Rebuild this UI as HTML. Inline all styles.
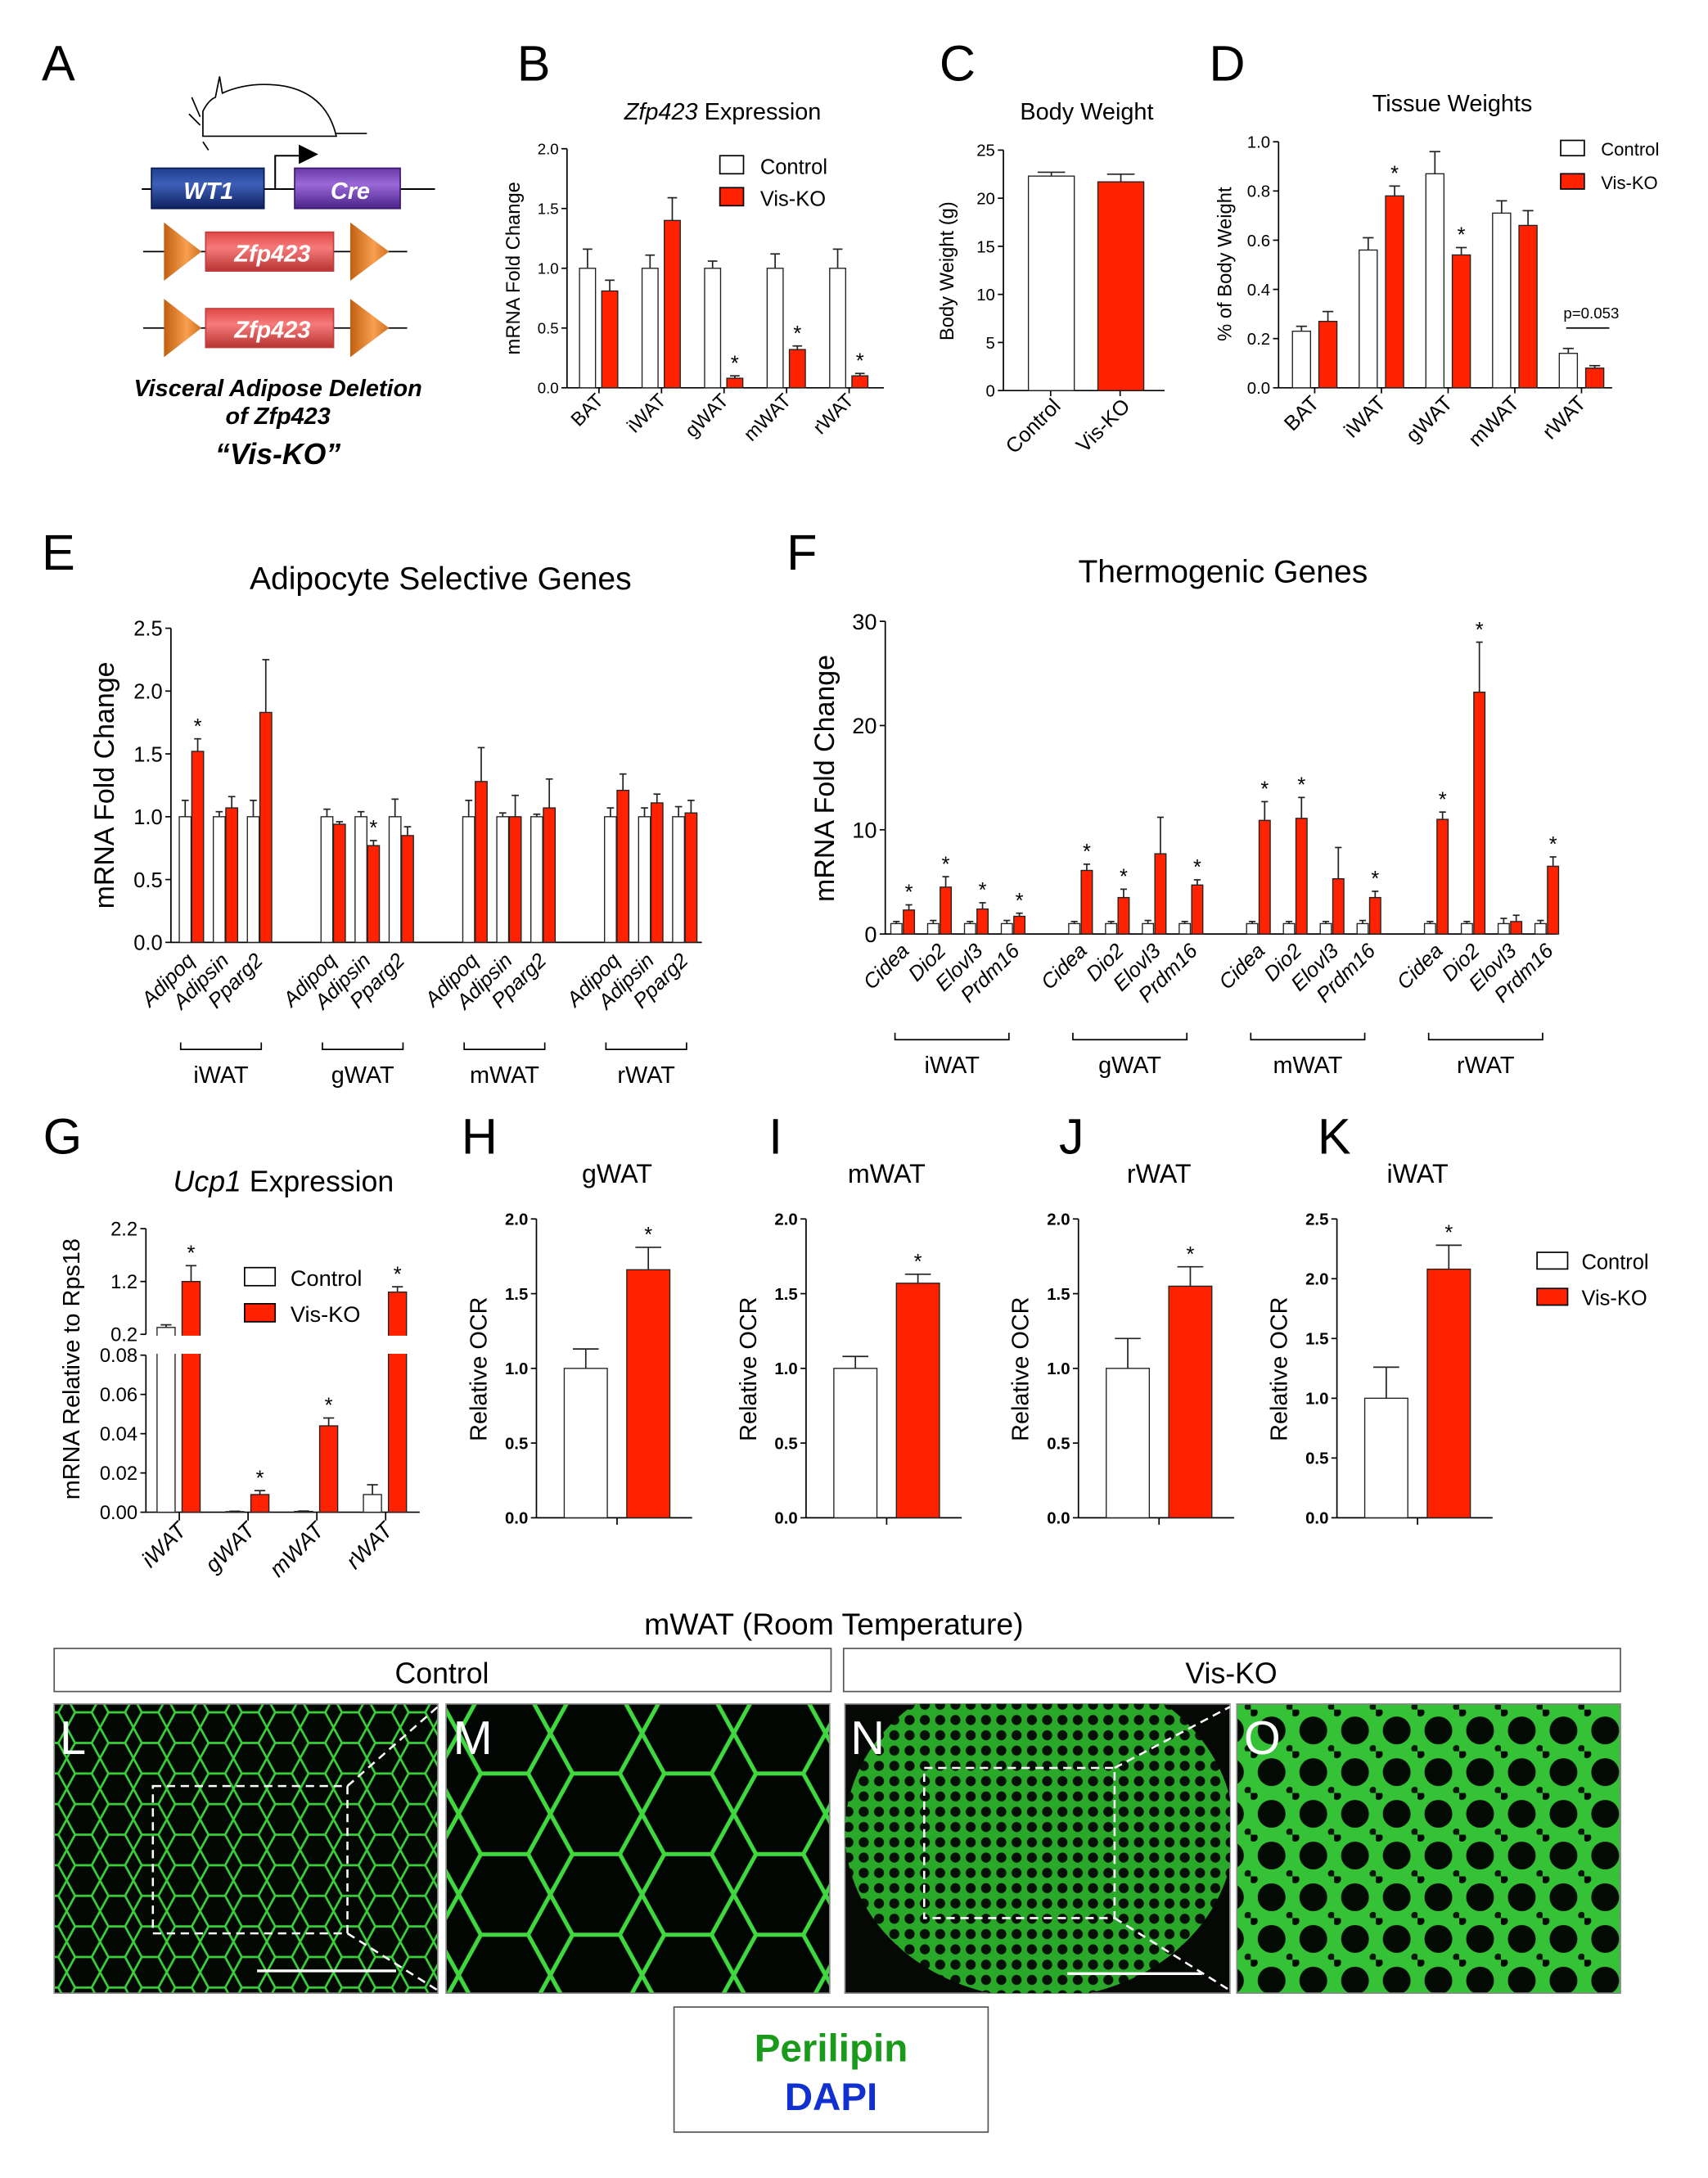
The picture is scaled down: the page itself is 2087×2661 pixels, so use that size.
<!DOCTYPE html>
<html><head><meta charset="utf-8"><style>
html,body{margin:0;padding:0;background:#fff;}
svg{display:block;font-family:"Liberation Sans",Arial,sans-serif;}
</style></head><body>
<svg id="fig" width="2087" height="2661" viewBox="0 0 1229 1567" xmlns="http://www.w3.org/2000/svg">
<defs>
<linearGradient id="gWT" x1="0" y1="0" x2="0" y2="1"><stop offset="0" stop-color="#1f3f8f"/><stop offset="0.4" stop-color="#3d5fb8"/><stop offset="1" stop-color="#0f2260"/></linearGradient>
<linearGradient id="gCre" x1="0" y1="0" x2="0" y2="1"><stop offset="0" stop-color="#6a3aa8"/><stop offset="0.4" stop-color="#9a68d8"/><stop offset="1" stop-color="#4a2388"/></linearGradient>
<linearGradient id="gZ" x1="0" y1="0" x2="0" y2="1"><stop offset="0" stop-color="#e04848"/><stop offset="0.4" stop-color="#f77a7a"/><stop offset="1" stop-color="#b83434"/></linearGradient>
<linearGradient id="gT" x1="0" y1="0" x2="1" y2="0"><stop offset="0" stop-color="#c06010"/><stop offset="0.6" stop-color="#f8a050"/><stop offset="1" stop-color="#d07020"/></linearGradient>
<pattern id="pL" width="24" height="22" patternUnits="userSpaceOnUse"><rect width="24" height="22" fill="#030803"/><path d="M0 11 L6 0 L18 0 L24 11 L18 22 L6 22 Z" fill="none" stroke="#3bcf3b" stroke-width="1.6"/></pattern>
<pattern id="pM" width="66" height="58" patternUnits="userSpaceOnUse"><rect width="66" height="58" fill="#020602"/><path d="M0 29 L16 0 L50 0 L66 29 L50 58 L16 58 Z" fill="none" stroke="#3fd83f" stroke-width="3"/></pattern>
<pattern id="pN" width="11" height="11" patternUnits="userSpaceOnUse"><rect width="11" height="11" fill="#2aa82a"/><circle cx="5.5" cy="5.5" r="3.6" fill="#061006"/></pattern>
<pattern id="pO" width="30" height="30" patternUnits="userSpaceOnUse"><rect width="30" height="30" fill="#36c236"/><circle cx="15" cy="15" r="10" fill="#040a04"/><circle cx="2" cy="2" r="3" fill="#040a04"/><circle cx="28" cy="28" r="2.5" fill="#0a1a0a"/></pattern>
<clipPath id="clipN"><rect x="608" y="1226" width="277" height="208"/></clipPath>
</defs>

<g font-size="36">
<text x="30" y="58">A</text><text x="372" y="58">B</text><text x="676" y="58">C</text><text x="870" y="58">D</text>
<text x="30" y="410">E</text><text x="566" y="410">F</text>
<text x="31" y="830">G</text><text x="332" y="830">H</text><text x="553" y="830">I</text><text x="762" y="830">J</text><text x="948" y="830">K</text>
</g>

<g>
<path d="M146 80 Q150 72 155 70 L158 55 L160 67 Q180 58 205 62 Q235 68 242 98 L146 98 Z" fill="none" stroke="#000" stroke-width="1"/>
<line x1="242" y1="96" x2="264" y2="96" stroke="#000"/>
<path d="M144 84 L138 70 M144 90 L136 82 M146 102 L150 108" stroke="#000" fill="none"/>
<line x1="102" y1="136" x2="313" y2="136" stroke="#000" stroke-width="1.2"/>
<rect x="109" y="121" width="81" height="29" fill="url(#gWT)" stroke="#0a1a50"/>
<text x="150" y="143" fill="#fff" font-size="17" font-weight="bold" font-style="italic" text-anchor="middle">WT1</text>
<rect x="212" y="121" width="76" height="29" fill="url(#gCre)" stroke="#3a1a70"/>
<text x="252" y="143" fill="#fff" font-size="17" font-weight="bold" font-style="italic" text-anchor="middle">Cre</text>
<path d="M198 136 L198 112 L215 112" fill="none" stroke="#000" stroke-width="1.2"/>
<path d="M215 104 L229 111 L215 118 Z" fill="#000"/>
<g>
<line x1="103" y1="181" x2="293" y2="181" stroke="#000"/>
<path d="M118 160 L145 181 L118 202 Z" fill="url(#gT)"/><path d="M252 160 L280 181 L252 202 Z" fill="url(#gT)"/>
<rect x="148" y="167" width="92" height="28" fill="url(#gZ)" stroke="#c04040"/>
<text x="196" y="188" fill="#fff" font-size="17" font-weight="bold" font-style="italic" text-anchor="middle">Zfp423</text>
</g>
<g>
<line x1="103" y1="236" x2="293" y2="236" stroke="#000"/>
<path d="M118 215 L145 236 L118 257 Z" fill="url(#gT)"/><path d="M252 215 L280 236 L252 257 Z" fill="url(#gT)"/>
<rect x="148" y="222" width="92" height="28" fill="url(#gZ)" stroke="#c04040"/>
<text x="196" y="243" fill="#fff" font-size="17" font-weight="bold" font-style="italic" text-anchor="middle">Zfp423</text>
</g>
<text x="200" y="285" font-size="17" font-weight="bold" font-style="italic" text-anchor="middle">Visceral Adipose Deletion</text>
<text x="200" y="305" font-size="17" font-weight="bold" font-style="italic" text-anchor="middle">of Zfp423</text>
<text x="200" y="334" font-size="21" font-weight="bold" font-style="italic" text-anchor="middle">“Vis-KO”</text>
</g>

<g>
<text x="520" y="86" font-size="17" text-anchor="middle"><tspan font-style="italic">Zfp423</tspan> Expression</text>
<text x="782" y="86" font-size="17" text-anchor="middle">Body Weight</text>
<text x="1045" y="80" font-size="17" text-anchor="middle">Tissue Weights</text>
<text x="317" y="424" font-size="23" text-anchor="middle">Adipocyte Selective Genes</text>
<text x="880" y="419" font-size="23" text-anchor="middle">Thermogenic Genes</text>
<text x="204" y="857" font-size="21" text-anchor="middle"><tspan font-style="italic">Ucp1</tspan> Expression</text>
<text x="444" y="851" font-size="19" text-anchor="middle">gWAT</text>
<text x="638" y="851" font-size="19" text-anchor="middle">mWAT</text>
<text x="834" y="851" font-size="19" text-anchor="middle">rWAT</text>
<text x="1020" y="851" font-size="19" text-anchor="middle">iWAT</text>
</g>

<g>
<rect x="518" y="112" width="17" height="13" fill="#fff" stroke="#000"/><text x="547" y="125" font-size="15">Control</text>
<rect x="518" y="135" width="17" height="13" fill="#ff2200" stroke="#000"/><text x="547" y="148" font-size="15">Vis-KO</text>
</g>
<g>
<rect x="1123" y="101" width="17" height="11" fill="#fff" stroke="#000"/><text x="1152" y="112" font-size="13">Control</text>
<rect x="1123" y="125" width="17" height="11" fill="#ff2200" stroke="#000"/><text x="1152" y="136" font-size="13">Vis-KO</text>
</g>
<g>
<rect x="176" y="912" width="22" height="13" fill="#fff" stroke="#000"/><text x="209" y="925" font-size="16">Control</text>
<rect x="176" y="938" width="22" height="13" fill="#ff2200" stroke="#000"/><text x="209" y="951" font-size="16">Vis-KO</text>
</g>
<g>
<rect x="1106" y="901" width="22" height="12" fill="#fff" stroke="#000"/><text x="1138" y="913" font-size="15">Control</text>
<rect x="1106" y="927" width="22" height="12" fill="#ff2200" stroke="#000"/><text x="1138" y="939" font-size="15">Vis-KO</text>
</g>
<g>
<text x="1145" y="229" font-size="11" text-anchor="middle">p=0.053</text>
<line x1="1127" y1="236" x2="1158" y2="236" stroke="#000"/>
</g>

<g id="charts"></g>

<g>
<text x="600" y="1176" font-size="22" text-anchor="middle">mWAT (Room Temperature)</text>
<rect x="39" y="1186" width="559" height="31" fill="#fff" stroke="#555"/><text x="318" y="1211" font-size="21" text-anchor="middle">Control</text>
<rect x="607" y="1186" width="559" height="31" fill="#fff" stroke="#555"/><text x="886" y="1211" font-size="21" text-anchor="middle">Vis-KO</text>
<rect x="39" y="1226" width="276" height="208" fill="url(#pL)" stroke="#888"/>
<rect x="321" y="1226" width="276" height="208" fill="url(#pM)" stroke="#888"/>
<rect x="608" y="1226" width="277" height="208" fill="#050805" stroke="#888"/>
<ellipse cx="748" cy="1318" rx="140" ry="120" fill="url(#pN)" clip-path="url(#clipN)"/>
<rect x="890" y="1226" width="276" height="208" fill="url(#pO)" stroke="#888"/>
<rect x="110" y="1285" width="140" height="106" fill="none" stroke="#fff" stroke-width="1.5" stroke-dasharray="6,4"/>
<path d="M250 1285 L315 1228 M250 1391 L315 1432" stroke="#fff" stroke-width="1.5" stroke-dasharray="6,4"/>
<line x1="185" y1="1418" x2="285" y2="1418" stroke="#fff" stroke-width="2"/>
<rect x="665" y="1272" width="137" height="108" fill="none" stroke="#fff" stroke-width="1.5" stroke-dasharray="6,4"/>
<path d="M802 1272 L885 1228 M802 1380 L885 1432" stroke="#fff" stroke-width="1.5" stroke-dasharray="6,4"/>
<line x1="768" y1="1420" x2="865" y2="1420" stroke="#fff" stroke-width="2"/>
<g font-size="34" fill="#fff"><text x="43" y="1262">L</text><text x="326" y="1262">M</text><text x="612" y="1262">N</text><text x="895" y="1262">O</text></g>
<rect x="485" y="1444" width="226" height="90" fill="#fff" stroke="#555"/>
<text x="598" y="1483" font-size="28" font-weight="bold" fill="#1a9a1a" text-anchor="middle">Perilipin</text>
<text x="598" y="1518" font-size="28" font-weight="bold" fill="#1030d0" text-anchor="middle">DAPI</text>
</g>
</svg>
<script>
const NS='http://www.w3.org/2000/svg';
const root=document.getElementById('charts');
function mk(tag,attrs,parent){const e=document.createElementNS(NS,tag);for(const k in attrs)e.setAttribute(k,attrs[k]);(parent||root).appendChild(e);return e;}
const RED='#ff2200';

const bCats=['BAT','iWAT','gWAT','mWAT','rWAT'];
const bCtrl=[1,1,1,1,1];
const bCtrlErr=[0.16,0.11,0.06,0.12,0.16];
const bKO=[0.81,1.40,0.08,0.32,0.10];
const bKOErr=[0.09,0.19,0.02,0.03,0.02];
const bStars=[0,0,1,1,1];
const bTicks=[0,0.5,1,1.5,2];

const cCats=['Control','Vis-KO'];
const cVals=[22.3,21.7];
const cErr=[0.4,0.8];
const cTicks=[0,5,10,15,20,25];

const dCats=['BAT','iWAT','gWAT','mWAT','rWAT'];
const dCtrl=[0.23,0.56,0.87,0.71,0.14];
const dCtrlErr=[0.02,0.05,0.09,0.05,0.02];
const dKO=[0.27,0.78,0.54,0.66,0.08];
const dKOErr=[0.04,0.04,0.03,0.06,0.01];
const dStars=[0,1,1,0,0];
const dTicks=[0,0.2,0.4,0.6,0.8,1.0];

const eTissues=['iWAT','gWAT','mWAT','rWAT'];
const eGenes=['Adipoq','Adipsin','Pparg2'];
const eCtrl=[1,1,1, 1,1,1, 1,1,1, 1,1,1];
const eCtrlErr=[0.13,0.04,0.13, 0.06,0.04,0.14, 0.13,0.03,0.02, 0.07,0.07,0.08];
const eKO=[1.52,1.07,1.83, 0.94,0.77,0.85, 1.28,1.00,1.07, 1.21,1.11,1.03];
const eKOErr=[0.10,0.09,0.42, 0.02,0.04,0.07, 0.27,0.17,0.23, 0.13,0.07,0.10];
const eStars=[1,0,0, 0,1,0, 0,0,0, 0,0,0];
const eTicks=[0,0.5,1,1.5,2,2.5];

const fTissues=['iWAT','gWAT','mWAT','rWAT'];
const fGenes=['Cidea','Dio2','Elovl3','Prdm16'];
const fCtrl=[1,1,1,1, 1,1,1,1, 1,1,1,1, 1,1,1,1];
const fCtrlErr=[0.2,0.3,0.2,0.3, 0.2,0.2,0.3,0.2, 0.2,0.2,0.2,0.3, 0.2,0.2,0.5,0.3];
const fKO=[2.3,4.5,2.4,1.7, 6.1,3.5,7.7,4.7, 10.9,11.1,5.3,3.5, 11.0,23.2,1.2,6.5];
const fKOErr=[0.5,1.0,0.6,0.3, 0.6,0.8,3.5,0.5, 1.8,2.0,3.0,0.6, 0.7,4.8,0.6,0.9];
const fStars=[1,1,1,1, 1,1,0,1, 1,1,0,1, 1,1,0,1];
const fTicks=[0,10,20,30];

const gCats=['iWAT','gWAT','mWAT','rWAT'];
const gCtrl=[0.33,0.0003,0.0004,0.009];
const gCtrlErr=[0.05,0.0002,0.0002,0.005];
const gKO=[1.2,0.009,0.044,1.0];
const gKOErr=[0.3,0.002,0.004,0.1];
const gStars=[1,1,1,1];
const gTicksLow=[0,0.02,0.04,0.06,0.08];
const gTicksHigh=[0.2,1.2,2.2];

const ocrTicks=[0,0.5,1,1.5,2];
const ocrTicksK=[0,0.5,1,1.5,2,2.5];
const hVals=[1.0,1.66]; const hErr=[0.13,0.15];
const iVals=[1.0,1.57]; const iErr=[0.08,0.06];
const jVals=[1.0,1.55]; const jErr=[0.20,0.13];
const kVals=[1.0,2.08]; const kErr=[0.26,0.20];

function yScale(yT,yB,max){return v=>yB-(v/max)*(yB-yT);}
function axisY(x0,yT,yB,max,ticks,fmt,fs,bold,g){
  const y=yScale(yT,yB,max);
  mk('line',{x1:x0,y1:yT,x2:x0,y2:yB,stroke:'#000','stroke-width':1},g);
  ticks.forEach(t=>{
    mk('line',{x1:x0-4,y1:y(t),x2:x0,y2:y(t),stroke:'#000'},g);
    const tx=mk('text',{x:x0-6,y:y(t)+fs*0.36,'font-size':fs,'text-anchor':'end','font-weight':bold?'bold':'normal'},g);
    tx.textContent=fmt(t);
  });
  return y;
}
function bar(g,x,w,v,e,y,yB,fill,star){
  const r=mk('rect',{x:x,y:y(v),width:w,height:yB-y(v),fill:fill,stroke:'#222','stroke-width':0.8},g);
  
  
  const top=y(v+e);
  mk('line',{x1:x+w/2,y1:y(v),x2:x+w/2,y2:top,stroke:'#222'},g);
  mk('line',{x1:x+w/2-w*0.3,y1:top,x2:x+w/2+w*0.3,y2:top,stroke:'#222'},g);
  if(star){const s=mk('text',{x:x+w/2,y:top-4,'font-size':15,'text-anchor':'middle'},g);s.textContent='*';}
}
function rotLabel(g,x,y,txt,fs,italic){
  const t=mk('text',{x:x,y:y,'font-size':fs,'text-anchor':'end','font-style':italic?'italic':'normal',transform:'rotate(-45 '+x+' '+y+')'},g);
  t.textContent=txt;
}
function ytitle(g,x,y,txt,fs){const t=mk('text',{x:x,y:y,'font-size':fs,'text-anchor':'middle',transform:'rotate(-90 '+x+' '+y+')'},g);t.textContent=txt;}

(function(){
  const g=mk('g',{});
  
  
  const x0=408,yT=107,yB=279,yb=axisY(x0,yT,yB,2,bTicks,t=>t.toFixed(1),11,false,g);
  mk('line',{x1:x0,y1:yB,x2:636,y2:yB,stroke:'#000'},g);
  bCats.forEach((c,i)=>{
    const x=417+i*45;
    bar(g,x,11.5,bCtrl[i],bCtrlErr[i],yb,yB,'#fff',0);
    bar(g,x+16,11.5,bKO[i],bKOErr[i],yb,yB,RED,bStars[i]);
    mk('line',{x1:x+14,y1:yB,x2:x+14,y2:yB+4,stroke:'#000'},g);
    rotLabel(g,x+18,yB+10,c,14,false);
  });
  ytitle(g,374,193,'mRNA Fold Change',14);
})();
(function(){
  const g=mk('g',{});
  
  
  const x0=722,yT=108,yB=281,yc=axisY(x0,yT,yB,25,cTicks,t=>String(t),12,false,g);
  mk('line',{x1:x0,y1:yB,x2:838,y2:yB,stroke:'#000'},g);
  cCats.forEach((c,i)=>{
    const x=740+i*50;
    bar(g,x,33,cVals[i],cErr[i],yc,yB,i?RED:'#fff',0);
    mk('line',{x1:x+16,y1:yB,x2:x+16,y2:yB+4,stroke:'#000'},g);
    rotLabel(g,x+24,yB+12,c,15,false);
  });
  ytitle(g,686,195,'Body Weight (g)',14);
})();
(function(){
  const g=mk('g',{});
  
  
  const x0=920,yT=102,yB=279,yd=axisY(x0,yT,yB,1,dTicks,t=>t.toFixed(1),12,false,g);
  mk('line',{x1:x0,y1:yB,x2:1160,y2:yB,stroke:'#000'},g);
  dCats.forEach((c,i)=>{
    const x=930+i*48;
    bar(g,x,13,dCtrl[i],dCtrlErr[i],yd,yB,'#fff',0);
    bar(g,x+19,13,dKO[i],dKOErr[i],yd,yB,RED,dStars[i]);
    mk('line',{x1:x+16,y1:yB,x2:x+16,y2:yB+4,stroke:'#000'},g);
    rotLabel(g,x+20,yB+12,c,15,false);
  });
  ytitle(g,886,190,'% of Body Weight',14);
})();
(function(){
  const g=mk('g',{});
  
  
  const x0=123,yT=452,yB=678,ye=axisY(x0,yT,yB,2.5,eTicks,t=>t.toFixed(1),15,false,g);
  mk('line',{x1:x0,y1:yB,x2:505,y2:yB,stroke:'#000'},g);
  eTissues.forEach((t,ti)=>{
    eGenes.forEach((gn,gi)=>{
      const k=ti*3+gi,x=129+ti*102+gi*24.5;
      bar(g,x,8.5,eCtrl[k],eCtrlErr[k],ye,yB,'#fff',0);
      bar(g,x+9,8.5,eKO[k],eKOErr[k],ye,yB,RED,eStars[k]);
      rotLabel(g,x+12,yB+14,gn,15,true);
    });
    const bx=130+ti*102;
    mk('path',{d:'M'+bx+' '+(yB+72)+' L'+bx+' '+(yB+77)+' L'+(bx+58)+' '+(yB+77)+' L'+(bx+58)+' '+(yB+72),fill:'none',stroke:'#000'},g);
    const tx=mk('text',{x:bx+29,y:yB+101,'font-size':17,'text-anchor':'middle'},g);tx.textContent=t;
  });
  ytitle(g,82,565,'mRNA Fold Change',20);
})();
(function(){
  const g=mk('g',{});
  
  
  const x0=637,yT=447,yB=672,yf=axisY(x0,yT,yB,30,fTicks,t=>String(t),16,false,g);
  mk('line',{x1:x0,y1:yB,x2:1120,y2:yB,stroke:'#000'},g);
  fTissues.forEach((t,ti)=>{
    fGenes.forEach((gn,gi)=>{
      const k=ti*4+gi,x=641+ti*128+gi*26.5;
      bar(g,x,8,fCtrl[k],fCtrlErr[k],yf,yB,'#fff',0);
      bar(g,x+9,8,fKO[k],fKOErr[k],yf,yB,RED,fStars[k]);
      rotLabel(g,x+14,yB+13,gn,15,true);
    });
    const bx=644+ti*128;
    mk('path',{d:'M'+bx+' '+(yB+71)+' L'+bx+' '+(yB+76)+' L'+(bx+82)+' '+(yB+76)+' L'+(bx+82)+' '+(yB+71),fill:'none',stroke:'#000'},g);
    const tx=mk('text',{x:bx+41,y:yB+100,'font-size':17,'text-anchor':'middle'},g);tx.textContent=t;
  });
  ytitle(g,600,560,'mRNA Fold Change',20);
})();
(function(){
  const g=mk('g',{});
  
  
  const x0=105,yB=1088,yL=975,yH0=960,yH1=884;
  const y=v=> v<=0.08 ? yB-(v/0.08)*(yB-yL) : yH0-((v-0.2)/2.0)*(yH0-yH1);
  mk('line',{x1:x0,y1:yL,x2:x0,y2:yB,stroke:'#000'},g);
  mk('line',{x1:x0,y1:yH1,x2:x0,y2:yH0,stroke:'#000'},g);
  gTicksLow.forEach(t=>{mk('line',{x1:x0-4,y1:y(t),x2:x0,y2:y(t),stroke:'#000'},g);const tx=mk('text',{x:x0-6,y:y(t)+5,'font-size':14,'text-anchor':'end'},g);tx.textContent=t.toFixed(2);});
  gTicksHigh.forEach(t=>{mk('line',{x1:x0-4,y1:y(t),x2:x0,y2:y(t),stroke:'#000'},g);const tx=mk('text',{x:x0-6,y:y(t)+5,'font-size':14,'text-anchor':'end'},g);tx.textContent=t.toFixed(1);});
  mk('line',{x1:x0,y1:yB,x2:302,y2:yB,stroke:'#000'},g);
  gCats.forEach((c,i)=>{
    const x=113+i*49.5;
    bar(g,x,13,gCtrl[i],gCtrlErr[i],y,yB,'#fff',0);
    bar(g,x+18,13,gKO[i],gKOErr[i],y,yB,RED,gStars[i]);
    mk('line',{x1:x+16,y1:yB,x2:x+16,y2:yB+6,stroke:'#000'},g);
    rotLabel(g,x+22,yB+14,c,16,true);
  });
  mk('rect',{x:x0+1,y:yH0+1,width:200,height:yL-yH0-2,fill:'#fff'},g);
  ytitle(g,57,985,'mRNA Relative to Rps18',17);
})();
function ocr(name,x0,max,ticks,vals,errs){
  const g=mk('g',{});
  
  
  const yT=877,yB=1092,ys=axisY(x0,yT,yB,max,ticks,t=>t.toFixed(1),12,true,g);
  mk('line',{x1:x0,y1:yB,x2:x0+112,y2:yB,stroke:'#000'},g);
  vals.forEach((v,i)=>bar(g,x0+20+i*45,31,v,errs[i],ys,yB,i?RED:'#fff',i));
  mk('line',{x1:x0+58,y1:yB,x2:x0+58,y2:yB+5,stroke:'#000'},g);
  ytitle(g,x0-36,985,'Relative OCR',17);
}
ocr('chart-h-gwat-ocr',386,2,ocrTicks,hVals,hErr);
ocr('chart-i-mwat-ocr',580,2,ocrTicks,iVals,iErr);
ocr('chart-j-rwat-ocr',776,2,ocrTicks,jVals,jErr);
ocr('chart-k-iwat-ocr',962,2.5,ocrTicksK,kVals,kErr);
</script>
</body></html>
